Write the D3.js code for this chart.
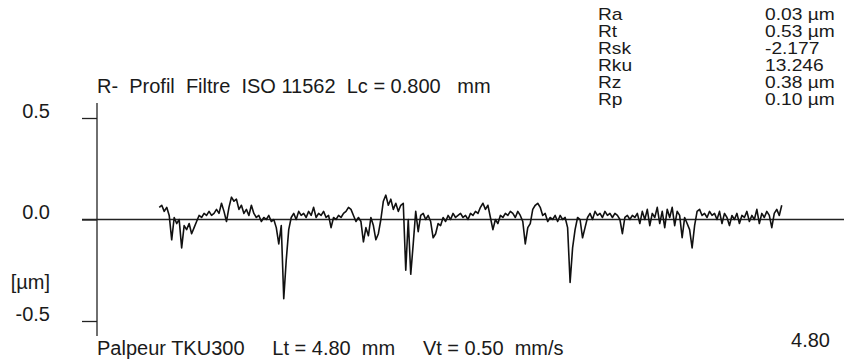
<!DOCTYPE html>
<html>
<head>
<meta charset="utf-8">
<script src="https://cdn.jsdelivr.net/npm/d3@7"></script>
<style>
  html, body { margin: 0; padding: 0; background: #fff; }
  svg text { font-family: "Liberation Sans", Arial, sans-serif; fill: #1a1a1a; }
</style>
</head>
<body>
<figure id="profile" style="margin:0"></figure>
<script>
// roughness parameters (top right table)
const paramNames = ['Ra', 'Rt', 'Rsk', 'Rku', 'Rz', 'Rp'];
const paramValues = ['0.03 µm', '0.53 µm', '-2.177', '13.246', '0.38 µm', '0.10 µm'];

// y axis ticks in µm
const yTicks = [0.5, 0.0, -0.5];
const yTickLabels = ['0.5', '0.0', '-0.5'];

// traverse length Lt = 4.80 mm, profile sampled from 0.40 mm every 0.016 mm
const lengthMm = 4.80;
const startMm = 0.40;
const stepMm = 0.016;

// filtered R-profile heights in µm
const heights = [
  0.06, 0.07, 0.04, 0.06, 0.02, -0.10, 0.01, -0.02, 0.00, -0.14,
  -0.03, -0.05, -0.02, -0.07, -0.04, -0.01, 0.02, 0.01, 0.03, 0.02,
  0.04, 0.02, 0.03, 0.05, 0.03, 0.08, 0.04, -0.01, 0.06, 0.11,
  0.09, 0.10, 0.05, 0.07, 0.03, 0.05, 0.02, 0.07, 0.03, 0.01,
  0.02, -0.01, 0.01, 0.00, 0.02, -0.01, 0.00, -0.04, -0.12, -0.03,
  -0.39, -0.20, -0.05, 0.01, 0.03, 0.00, 0.04, 0.02, 0.03, 0.01,
  0.04, 0.02, 0.06, 0.01, 0.03, 0.02, 0.04, 0.01, 0.02, -0.04,
  0.01, 0.00, 0.02, 0.01, 0.03, 0.04, 0.06, 0.05, 0.02, -0.01,
  0.01, -0.01, -0.11, -0.04, -0.08, 0.01, -0.03, -0.10, -0.07, 0.00,
  0.09, 0.12, 0.07, 0.10, 0.05, 0.08, 0.04, 0.07, 0.08, -0.25,
  0.00, -0.27, -0.12, 0.04, -0.06, 0.02, 0.03, 0.00, 0.02, -0.01,
  -0.09, -0.07, -0.02, -0.03, 0.01, -0.01, 0.02, 0.00, 0.03, 0.01,
  0.02, 0.03, 0.01, 0.02, 0.00, 0.03, 0.02, 0.04, 0.03, 0.06,
  0.08, 0.05, 0.07, 0.01, -0.05, 0.00, -0.02, 0.02, 0.01, 0.03,
  0.02, 0.04, 0.03, 0.01, 0.04, 0.02, -0.01, -0.12, -0.04, -0.02,
  0.05, 0.07, 0.08, 0.06, 0.02, 0.03, -0.01, 0.01, 0.00, 0.02,
  -0.01, 0.02, 0.00, 0.01, -0.04, -0.31, -0.14, -0.05, 0.01, 0.00,
  -0.09, -0.04, 0.01, 0.03, 0.00, 0.04, 0.02, 0.03, 0.01, 0.04,
  0.02, 0.03, 0.01, 0.03, 0.02, 0.00, -0.07, 0.01, 0.02, 0.00,
  0.02, 0.01, 0.03, -0.02, 0.04, 0.00, 0.05, -0.03, 0.03, 0.01,
  0.06, -0.02, 0.04, -0.04, 0.05, 0.01, 0.06, -0.03, 0.04, 0.02,
  -0.09, 0.01, -0.02, -0.05, -0.14, -0.03, 0.04, 0.05, 0.02, 0.03,
  0.01, 0.04, 0.02, 0.03, 0.00, 0.04, -0.02, 0.03, 0.01, -0.03,
  0.02, 0.00, 0.03, -0.02, 0.02, 0.01, 0.04, -0.01, 0.02, 0.00,
  0.05, -0.02, 0.03, 0.01, 0.04, 0.02, -0.04, 0.03, 0.05, 0.02,
  0.07
];

const width = 844;
const height = 360;

const svg = d3.select('figure#profile')
    .append('svg')
    .attr('width', width)
    .attr('height', height);

// scales
const x = d3.scaleLinear().domain([0, lengthMm]).range([97, 844]);
const y = d3.scaleLinear().domain([-0.5, 0.5]).range([321, 118]);

// vertical axis line
svg.append('line')
    .attr('x1', x(0)).attr('x2', x(0))
    .attr('y1', 103).attr('y2', 336)
    .attr('stroke', '#222').attr('stroke-width', 1.3);

// y ticks and labels (labels sit on the tick, right aligned)
const yAxis = svg.append('g')
    .attr('transform', 'translate(' + x(0) + ',0)')
    .call(d3.axisLeft(y)
        .tickValues(yTicks)
        .tickFormat((d, i) => yTickLabels[i])
        .tickSize(15)
        .tickSizeOuter(0)
        .tickPadding(32));
yAxis.select('.domain').remove();
yAxis.selectAll('line').attr('stroke', '#222').attr('stroke-width', 1.3);
yAxis.selectAll('text')
    .attr('dy', '-0.05em')
    .style('font-size', '20px')
    .style('font-family', '"Liberation Sans", Arial, sans-serif')
    .attr('fill', '#1a1a1a');

// zero line across the whole length
svg.append('line')
    .attr('x1', x(0) - 15).attr('x2', x(lengthMm))
    .attr('y1', y(0)).attr('y2', y(0))
    .attr('stroke', '#222').attr('stroke-width', 1.3);

// the profile trace
const line = d3.line()
    .x((d, i) => x(startMm + i * stepMm))
    .y(d => y(d));

svg.append('path')
    .datum(heights)
    .attr('d', line)
    .attr('fill', 'none')
    .attr('stroke', '#111')
    .attr('stroke-width', 1.6)
    .attr('stroke-linejoin', 'round');

// unit label
svg.append('text')
    .attr('x', 50).attr('y', 289)
    .attr('text-anchor', 'end')
    .style('font-size', '20px')
    .text('[µm]');

// title
svg.append('text')
    .attr('x', 97).attr('y', 93)
    .style('font-size', '20px')
    .style('white-space', 'pre')
    .text('R-  Profil  Filtre  ISO 11562  Lc = 0.800   mm');

// bottom info
svg.append('text')
    .attr('x', 97).attr('y', 355)
    .style('font-size', '20px')
    .style('white-space', 'pre')
    .text('Palpeur TKU300     Lt = 4.80  mm     Vt = 0.50  mm/s');

svg.append('text')
    .attr('x', 830).attr('y', 347)
    .attr('text-anchor', 'end')
    .style('font-size', '20px')
    .text(lengthMm.toFixed(2));

// parameter table, rows are packed tight so glyphs are widened a bit
const table = svg.append('g')
    .attr('transform', 'translate(598,0) scale(1.2,1)');
table.selectAll('text.name')
    .data(paramNames)
    .enter()
    .append('text')
    .attr('class', 'name')
    .attr('x', 0)
    .attr('y', (d, i) => 20 + i * 17)
    .style('font-size', '16px')
    .text(d => d);
table.selectAll('text.value')
    .data(paramValues)
    .enter()
    .append('text')
    .attr('class', 'value')
    .attr('x', (765 - 598) / 1.2)
    .attr('y', (d, i) => 20 + i * 17)
    .style('font-size', '16px')
    .text(d => d);
</script>
</body>
</html>
